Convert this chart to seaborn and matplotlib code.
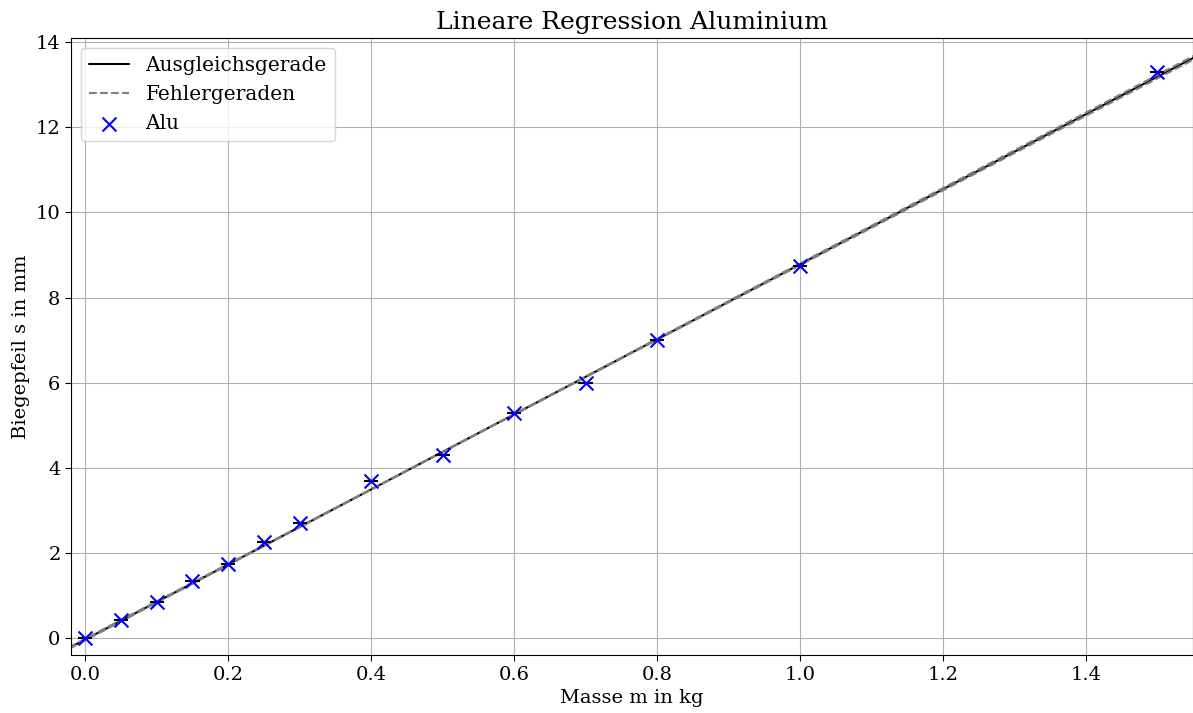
import numpy as np
import pandas as pd
import seaborn as sns
import matplotlib.pyplot as plt

# Messwerte Aluminium
masse = [0.0, 0.05, 0.1, 0.15, 0.2, 0.25, 0.3, 0.4, 0.5, 0.6, 0.7, 0.8, 1.0, 1.5]
biegepfeil = [0.0, 0.43, 0.85, 1.35, 1.75, 2.25, 2.7, 3.7, 4.3, 5.3, 6.0, 7.0, 8.75, 13.3]
masse_err = 0.01

# Ausgleichsgerade und Fehlergeraden (Steigung, Achsenabschnitt)
steigung = 8.81
abschnitt = -0.03
steigung_min, abschnitt_min = 8.77, -0.01
steigung_max, abschnitt_max = 8.85, -0.05

sns.set_style("whitegrid")
plt.rcParams["font.family"] = ["DejaVu Serif"]
plt.rcParams["axes.edgecolor"] = "black"
plt.rcParams["grid.color"] = "#b0b0b0"
plt.rcParams["text.color"] = "black"
plt.rcParams["axes.labelcolor"] = "black"
plt.rcParams["xtick.color"] = "black"
plt.rcParams["ytick.color"] = "black"

fig = plt.figure(figsize=(11.93, 7.13), dpi=100)
ax = fig.add_axes([0.0595, 0.081, 0.9405, 0.866])

x_fit = np.array([-0.05, 1.6])
df_fit = pd.DataFrame({"m": x_fit, "s": steigung * x_fit + abschnitt})
sns.lineplot(data=df_fit, x="m", y="s", color="black", lw=1.5, ax=ax, label="Ausgleichsgerade")
sns.lineplot(x=x_fit, y=steigung_min * x_fit + abschnitt_min, color="gray", ls="--", lw=1.5,
             ax=ax, label="Fehlergeraden")
sns.lineplot(x=x_fit, y=steigung_max * x_fit + abschnitt_max, color="gray", ls="--", lw=1.5,
             ax=ax, label="_nolegend_")

ax.errorbar(masse, biegepfeil, xerr=masse_err, fmt="none", ecolor="black", elinewidth=1.5)
df = pd.DataFrame({"m": masse, "s": biegepfeil})
sns.scatterplot(data=df, x="m", y="s", marker="x", color="blue", s=100, linewidth=1.5,
                ax=ax, label="Alu", zorder=3)

ax.set_xlim(-0.02, 1.55)
ax.set_ylim(-0.4, 14.1)
ax.set_yticks(range(0, 15, 2))
ax.tick_params(axis="both", labelsize=14, left=True, bottom=True, length=4)
ax.set_xlabel("Masse m in kg", fontsize=14)
ax.set_ylabel("Biegepfeil s in mm", fontsize=14)
ax.set_title("Lineare Regression Aluminium", fontsize=18)
ax.legend(loc="upper left", fontsize=14.5, frameon=True)

plt.savefig("out.png")
